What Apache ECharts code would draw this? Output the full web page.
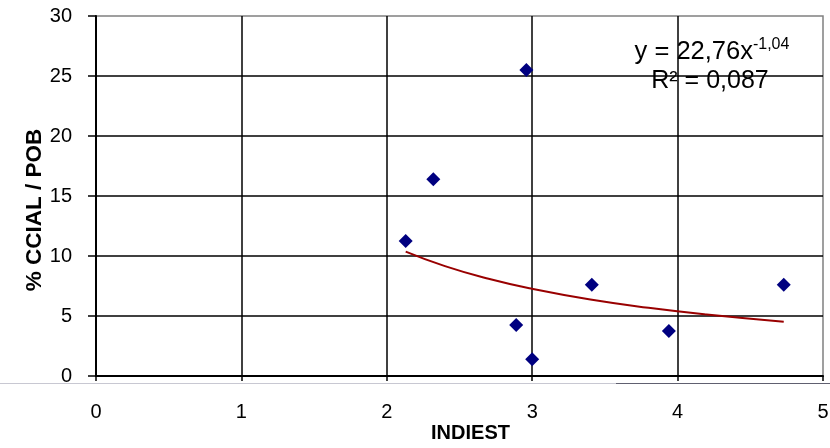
<!DOCTYPE html>
<html>
<head>
<meta charset="utf-8">
<script src="https://cdn.jsdelivr.net/npm/echarts@6/dist/echarts.min.js"></script>
<style>
html,body{margin:0;padding:0;background:#fff;}
#chart{width:830px;height:448px;}
</style>
</head>
<body>
<div id="chart"></div>
<script>
// Data
var indiest = [2.13, 2.32, 2.96, 2.89, 3.00, 3.41, 3.94, 4.73];
var ccialPob = [11.25, 16.4, 25.5, 4.25, 1.4, 7.6, 3.75, 7.6];
// Power trendline y = 22,76x^-1,04 as seen in the picture
var trendX = [2.13, 2.4, 2.7, 3.0, 3.4, 3.8, 4.2, 4.73];
var trendY = [10.37, 9.16, 8.10, 7.26, 6.37, 5.68, 5.12, 4.52];
var xTicks = [0, 1, 2, 3, 4, 5];
var yTicks = [0, 5, 10, 15, 20, 25, 30];
var eqLine1 = 'y = 22,76x';
var eqSup = '-1,04';
var eqLine2 = 'R² = 0,087';
var xTitle = 'INDIEST';
var yTitle = '% CCIAL / POB';

var font = "'Liberation Sans', Arial, sans-serif";
var scatterData = indiest.map(function (x, i) { return [x, ccialPob[i]]; });
var trendData = trendX.map(function (x, i) { return [x, trendY[i]]; });

var chart = echarts.init(document.getElementById('chart'), null, {renderer: 'canvas'});
chart.setOption({
  animation: false,
  backgroundColor: '#fff',
  grid: {left: 96, right: 7, top: 16, bottom: 72, containLabel: false, outerBoundsMode: 'none',
         show: true, borderColor: '#808080', borderWidth: 1.5},
  xAxis: {
    type: 'value', min: xTicks[0], max: xTicks[xTicks.length - 1], interval: 1,
    name: xTitle, nameLocation: 'middle', nameGap: 47, nameMoveOverlap: false,
    nameTextStyle: {fontFamily: font, fontSize: 20, fontWeight: 'bold', color: '#000', padding: [0, 0, 0, 22]},
    axisLine: {show: true, lineStyle: {color: '#000', width: 2}},
    axisTick: {show: true, length: 5, lineStyle: {color: '#000', width: 1.5}},
    axisLabel: {fontFamily: font, fontSize: 20, color: '#000', margin: 26},
    splitLine: {show: true, showMaxLine: false, lineStyle: {color: '#000', width: 1.5}}
  },
  yAxis: {
    type: 'value', min: yTicks[0], max: yTicks[yTicks.length - 1], interval: 5,
    name: yTitle, nameLocation: 'middle', nameGap: 50, nameRotate: 90, nameMoveOverlap: false,
    nameTextStyle: {fontFamily: font, fontSize: 22.5, fontWeight: 'bold', color: '#000', padding: [0, 28, 0, 0]},
    axisLine: {show: true, lineStyle: {color: '#000', width: 2}},
    axisTick: {show: true, length: 8, lineStyle: {color: '#000', width: 1.5}},
    axisLabel: {fontFamily: font, fontSize: 20, color: '#000', margin: 24},
    splitLine: {show: true, showMaxLine: false, lineStyle: {color: '#000', width: 1.5}}
  },
  series: [
    {
      type: 'line', data: trendData, smooth: true, symbol: 'none',
      lineStyle: {color: '#990000', width: 2}, z: 3
    },
    {
      type: 'scatter', data: scatterData, symbol: 'diamond', symbolSize: 14,
      itemStyle: {color: '#000080', opacity: 1}, z: 4
    }
  ],
  graphic: [
    {
      type: 'text', x: 712, y: 52, z: 10,
      style: {
        text: '{a|' + eqLine1 + '}{s|' + eqSup + '}',
        fontFamily: font, fill: '#000',
        align: 'center', verticalAlign: 'middle',
        rich: {
          a: {fontFamily: font, fontSize: 25.5, lineHeight: 30, color: '#000'},
          s: {fontFamily: font, fontSize: 16, lineHeight: 15, color: '#000', verticalAlign: 'top'}
        }
      }
    },
    {
      type: 'text', x: 710, y: 81, z: 10,
      style: {
        text: eqLine2, fontFamily: font, fontSize: 25, fill: '#000',
        align: 'center', verticalAlign: 'middle'
      }
    },
    {type: 'line', shape: {x1: 0, y1: 383.5, x2: 616, y2: 383.5}, style: {stroke: '#c8c8d2', lineWidth: 1}, silent: true},
    {type: 'line', shape: {x1: 616, y1: 383.5, x2: 830, y2: 383.5}, style: {stroke: '#606070', lineWidth: 1}, silent: true}
  ]
});
</script>
</body>
</html>
